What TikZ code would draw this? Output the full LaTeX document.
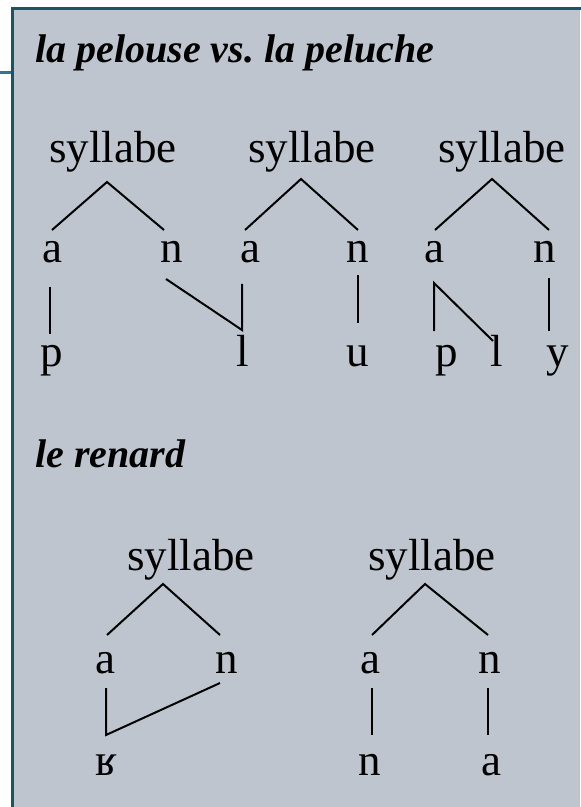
\documentclass[tikz,border=0pt]{standalone}
\usepackage{fontspec}
\setmainfont{Liberation Serif}
\definecolor{bgc}{RGB}{191,197,207}
\definecolor{frame}{RGB}{26,84,102}
\definecolor{stub}{RGB}{42,122,146}
\begin{document}
\begin{tikzpicture}[x=0.5pt,y=-0.5pt,
  lab/.style={anchor=base,inner sep=0pt,font=\fontsize{22.5}{22.5}\selectfont},
  ttl/.style={anchor=base west,inner sep=0pt,font=\fontsize{20}{20}\selectfont\bfseries\itshape},
  br/.style={line width=1pt,black}]
\useasboundingbox (0,0) rectangle (580,807);
\fill[bgc] (12,9) rectangle (580,807);
\draw[frame,line width=1.5pt] (12,812) -- (12,9) -- (585,9);
\coordinate (st0) at (0,73);
\coordinate (st1) at (11,73);
\draw[stub,line width=1.5pt] (st0) -- (st1);

\node[ttl] (t1) at (35,63) {la pelouse vs.\ la peluche};
\node[ttl] (t2) at (35,467) {le renard};

% row 1
\node[lab] (s1) at (113,163) {syllabe};
\node[lab] (s2) at (312,163) {syllabe};
\node[lab] (s3) at (502,163) {syllabe};
\node[lab] (a1) at (52,263) {a};
\node[lab] (n1) at (172,263) {n};
\node[lab] (a2) at (250,263) {a};
\node[lab] (n2) at (358,263) {n};
\node[lab] (a3) at (434,263) {a};
\node[lab] (n3) at (545,263) {n};
\node[lab] (p1) at (52,366) {p};
\node[lab] (l1) at (243,366) {l};
\node[lab] (u2) at (358,366) {u};
\node[lab] (p3) at (447,366) {p};
\node[lab] (l3) at (497,366) {l};
\node[lab] (y3) at (558,366) {y};

\coordinate (s1x) at (107,182);
\coordinate (a1x) at (52,230);
\coordinate (n1x) at (164,230);
\coordinate (a1y) at (50,287);
\coordinate (p1x) at (50,334);
\coordinate (n1y) at (166,279);
\coordinate (l1x) at (242,330);
\coordinate (s2x) at (301,179);
\coordinate (a2x) at (245,230);
\coordinate (n2x) at (358,230);
\coordinate (a2y) at (242,284);
\coordinate (n2y) at (358,275);
\coordinate (u2x) at (358,323);
\coordinate (s3x) at (492,179);
\coordinate (a3x) at (435,230);
\coordinate (n3x) at (549,230);
\coordinate (a3y) at (434,283);
\coordinate (p3x) at (434,331);
\coordinate (l3x) at (493,341);
\coordinate (n3y) at (549,278);
\coordinate (y3x) at (549,331);

\draw[br] (a1x) -- (s1x) -- (n1x);
\draw[br] (a1y) -- (p1x);
\draw[br] (n1y) -- (l1x) -- (a2y);
\draw[br] (a2x) -- (s2x) -- (n2x);
\draw[br] (n2y) -- (u2x);
\draw[br] (a3x) -- (s3x) -- (n3x);
\draw[br] (p3x) -- (a3y) -- (l3x);
\draw[br] (n3y) -- (y3x);

% row 2
\node[lab] (s4) at (191,570) {syllabe};
\node[lab] (s5) at (432,570) {syllabe};
\node[lab] (a4) at (105,673) {a};
\node[lab] (n4) at (227,673) {n};
\node[lab] (a5) at (370,673) {a};
\node[lab] (n5) at (490,673) {n};
\node[lab] (r4) at (106,775) {ʁ};
\node[lab] (m5) at (370,775) {n};
\node[lab] (b5) at (491,775) {a};

\coordinate (s4x) at (163,584);
\coordinate (a4x) at (107,635);
\coordinate (n4x) at (220,635);
\coordinate (a4y) at (106,688);
\coordinate (r4x) at (106,735);
\coordinate (n4y) at (220,683);
\coordinate (s5x) at (425,584);
\coordinate (a5x) at (372,635);
\coordinate (n5x) at (488,635);
\coordinate (a5y) at (372,688);
\coordinate (m5x) at (372,735);
\coordinate (n5y) at (488,688);
\coordinate (b5x) at (488,735);

\draw[br] (a4x) -- (s4x) -- (n4x);
\draw[br] (a4y) -- (r4x) -- (n4y);
\draw[br] (a5x) -- (s5x) -- (n5x);
\draw[br] (a5y) -- (m5x);
\draw[br] (n5y) -- (b5x);
\end{tikzpicture}
\end{document}
